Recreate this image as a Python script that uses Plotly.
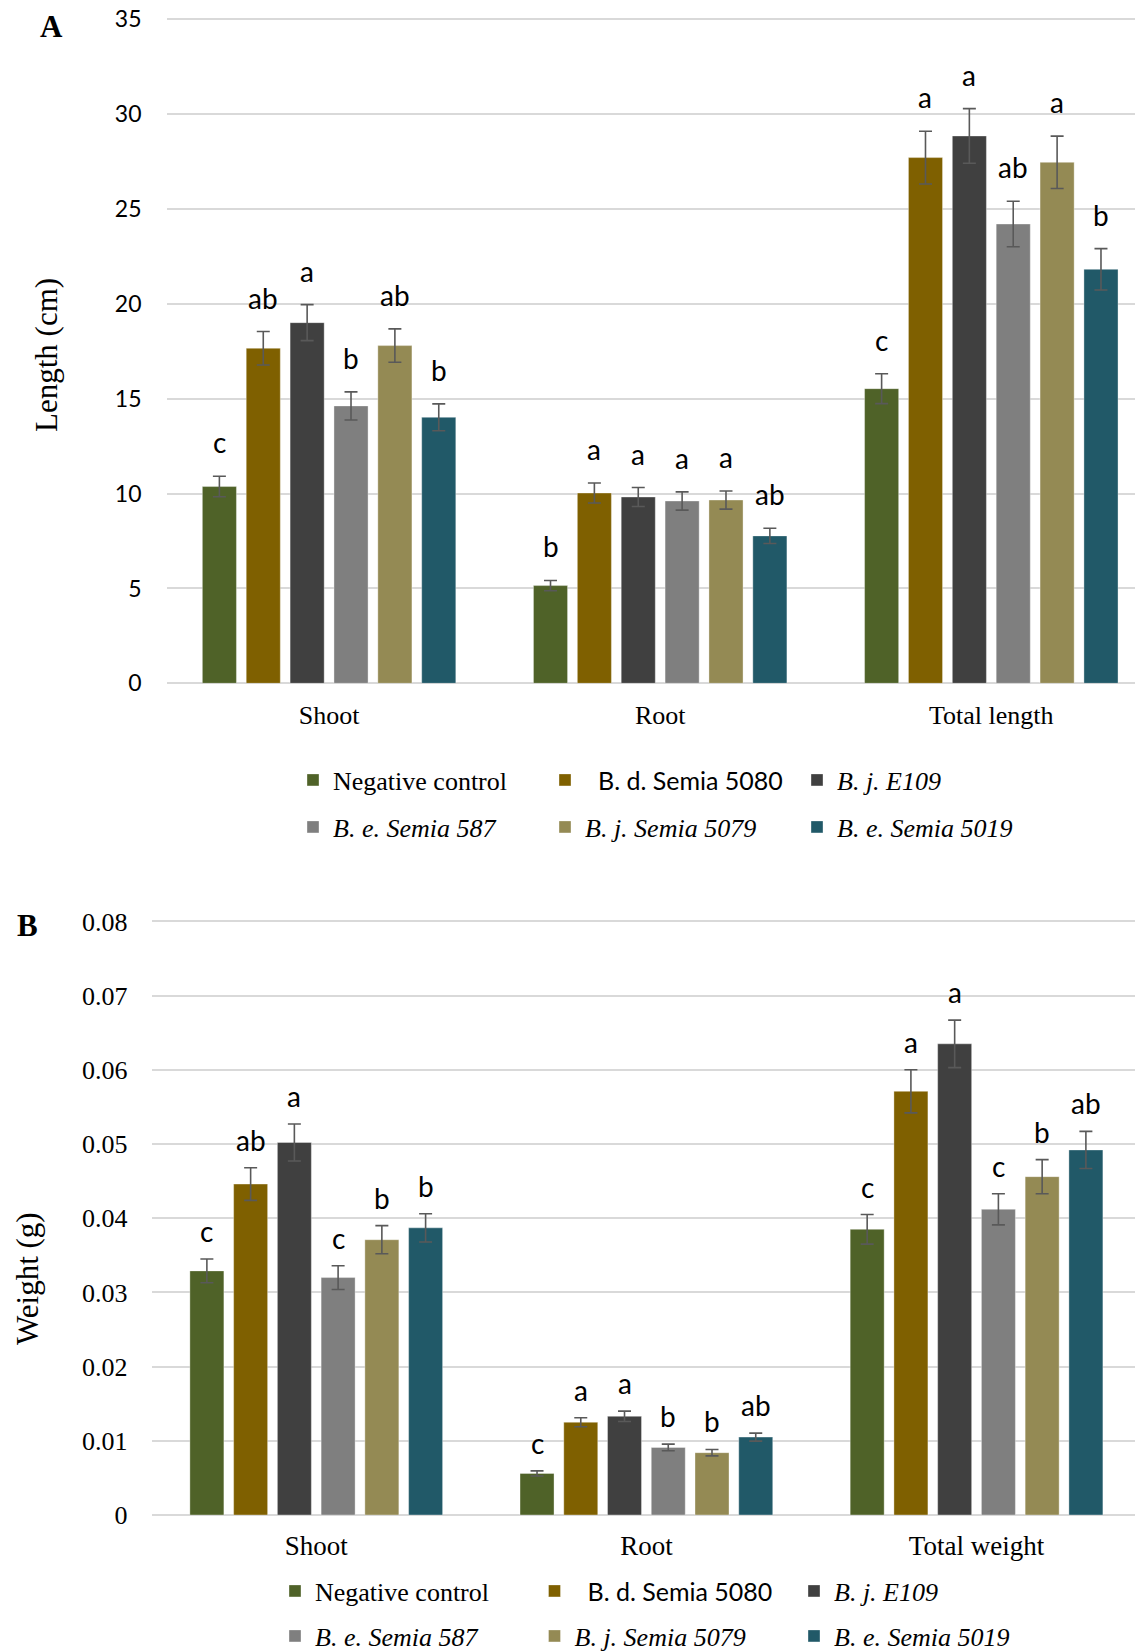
import plotly.graph_objects as go

W, H = 1135, 1652
SERIF = "Liberation Serif, Times New Roman, serif"
SANS = "Lato, Carlito, Calibri, sans-serif"

# ---------------- data ----------------
series_names = ["Negative control", "B. d. Semia 5080", "B. j. E109",
                "B. e. Semia 587", "B. j. Semia 5079", "B. e. Semia 5019"]
legend_labels = ["Negative control",
                 "\u00a0\u00a0<span style=\"font-family:Lato;font-size:25px\">B. d. Semia 5080</span>",
                 "<i>B. j. E109</i>", "<i>B. e. Semia 587</i>",
                 "<i>B. j. Semia 5079</i>", "<i>B. e. Semia 5019</i>"]
colors = ["#4F6228", "#7F6000", "#404040", "#7F7F7F", "#948A54", "#215968"]

length_categories = ["Shoot", "Root", "Total length"]
length_means = [
    [10.37, 5.15, 15.53],
    [17.66, 10.03, 27.71],
    [19.01, 9.82, 28.85],
    [14.62, 9.61, 24.21],
    [17.80, 9.66, 27.46],
    [14.02, 7.77, 21.82],
]
length_errors = [
    [0.54, 0.27, 0.79],
    [0.88, 0.53, 1.39],
    [0.95, 0.50, 1.44],
    [0.74, 0.48, 1.20],
    [0.88, 0.48, 1.38],
    [0.71, 0.40, 1.09],
]
length_letters = [
    ["c", "b", "c"],
    ["ab", "a", "a"],
    ["a", "a", "a"],
    ["b", "a", "ab"],
    ["ab", "a", "a"],
    ["b", "ab", "b"],
]
length_ticks = [0, 5, 10, 15, 20, 25, 30, 35]

weight_categories = ["Shoot", "Root", "Total weight"]
weight_means = [
    [0.0329, 0.0056, 0.0385],
    [0.0446, 0.0125, 0.0571],
    [0.0502, 0.0133, 0.0635],
    [0.0320, 0.0091, 0.0412],
    [0.0371, 0.0084, 0.0456],
    [0.0387, 0.0105, 0.0492],
]
weight_errors = [
    [0.0016, 0.00035, 0.0020],
    [0.0022, 0.00060, 0.0029],
    [0.0025, 0.00070, 0.0032],
    [0.0016, 0.00045, 0.0021],
    [0.0019, 0.00043, 0.0023],
    [0.0019, 0.00054, 0.0025],
]
weight_letters = [
    ["c", "c", "c"],
    ["ab", "a", "a"],
    ["a", "a", "a"],
    ["c", "b", "c"],
    ["b", "b", "b"],
    ["b", "ab", "ab"],
]
weight_ticks = [0, 0.01, 0.02, 0.03, 0.04, 0.05, 0.06, 0.07, 0.08]
weight_tick_text = ["0", "0.01", "0.02", "0.03", "0.04", "0.05", "0.06", "0.07", "0.08"]

# ---------------- layout helpers ----------------
BARGAP = 0.205
BARGROUPGAP = 0.223
n_series = len(series_names)
slot = (1 - BARGAP) / n_series


def px_x(p):
    return p / W


def px_y(p):
    return 1 - p / H


fig = go.Figure()

legend_rows_A = ["legend", "legend", "legend", "legend2", "legend2", "legend2"]
legend_rows_B = ["legend3", "legend3", "legend3", "legend4", "legend4", "legend4"]

for i in range(n_series):
    fig.add_trace(go.Bar(
        x=length_categories, y=length_means[i], name=legend_labels[i],
        marker=dict(color=colors[i], line=dict(color="rgba(255,255,255,0.35)", width=1)),
        error_y=dict(type="data", array=length_errors[i], color="#595959",
                     thickness=1.6, width=6.5),
        xaxis="x", yaxis="y", legend=legend_rows_A[i], hoverinfo="y",
    ))
for i in range(n_series):
    fig.add_trace(go.Bar(
        x=weight_categories, y=weight_means[i], name=legend_labels[i],
        marker=dict(color=colors[i], line=dict(color="rgba(255,255,255,0.35)", width=1)),
        error_y=dict(type="data", array=weight_errors[i], color="#595959",
                     thickness=1.6, width=6.5),
        xaxis="x2", yaxis="y2", legend=legend_rows_B[i], hoverinfo="y",
    ))

annotations = []
# significance letters
for i in range(n_series):
    off = (i - (n_series - 1) / 2) * slot
    for j in range(len(length_categories)):
        annotations.append(dict(
            x=j + off, y=length_means[i][j] + length_errors[i][j], xref="x", yref="y",
            text=length_letters[i][j], showarrow=False, yanchor="middle", yshift=34,
            font=dict(family=SANS, size=28, color="#000000")))
    for j in range(len(weight_categories)):
        annotations.append(dict(
            x=j + off, y=weight_means[i][j] + weight_errors[i][j], xref="x2", yref="y2",
            text=weight_letters[i][j], showarrow=False, yanchor="middle", yshift=28,
            font=dict(family=SANS, size=28, color="#000000")))

# panel letters & axis titles
annotations += [
    dict(x=px_x(51), y=px_y(26), xref="paper", yref="paper", text="<b>A</b>",
         showarrow=False, xanchor="center", yanchor="middle",
         font=dict(family=SERIF, size=31, color="#000")),
    dict(x=px_x(27), y=px_y(925), xref="paper", yref="paper", text="<b>B</b>",
         showarrow=False, xanchor="center", yanchor="middle",
         font=dict(family=SERIF, size=31, color="#000")),
    dict(x=px_x(47), y=px_y(355), xref="paper", yref="paper", text="Length (cm)",
         showarrow=False, textangle=-90, xanchor="center", yanchor="middle",
         font=dict(family=SERIF, size=31, color="#000")),
    dict(x=px_x(27), y=px_y(1279), xref="paper", yref="paper", text="Weight (g)",
         showarrow=False, textangle=-90, xanchor="center", yanchor="middle",
         font=dict(family=SERIF, size=31, color="#000")),
]

grid = "#D9D9D9"
legend_common = dict(orientation="h", xanchor="left", yanchor="middle",
                     font=dict(family=SERIF, size=26, color="#000"),
                     bgcolor="rgba(0,0,0,0)", itemclick=False, itemdoubleclick=False,
                     entrywidthmode="pixels", traceorder="normal", tracegroupgap=0)

fig.update_layout(
    width=W, height=H,
    margin=dict(l=0, r=0, t=0, b=0, pad=0, autoexpand=False),
    paper_bgcolor="white", plot_bgcolor="white",
    barmode="group", bargap=BARGAP, bargroupgap=BARGROUPGAP,
    showlegend=True,
    xaxis=dict(domain=[px_x(166.5), 1], type="category", range=[-0.491, 2.434],
               automargin=False,
               showgrid=False, showline=False, zeroline=False, ticks="",
               ticklabelstandoff=14,
               tickfont=dict(family=SERIF, size=26, color="#000"), anchor="y"),
    yaxis=dict(domain=[px_y(683.3), px_y(13.6)], range=[0, 35.3], tickvals=length_ticks,
               automargin=False,
               showgrid=True, gridcolor=grid, gridwidth=1.6,
               zeroline=True, zerolinecolor=grid, zerolinewidth=1.6,
               showline=False, ticks="", ticklabelstandoff=24,
               tickfont=dict(family=SANS, size=23, color="#000"), anchor="x"),
    xaxis2=dict(domain=[px_x(151.5), 1], type="category", range=[-0.499, 2.480],
                automargin=False,
                showgrid=False, showline=False, zeroline=False, ticks="",
                ticklabelstandoff=12,
                tickfont=dict(family=SERIF, size=27, color="#000"), anchor="y2"),
    yaxis2=dict(domain=[px_y(1515), px_y(917.7)], range=[0, 0.0805], tickvals=weight_ticks,
                ticktext=weight_tick_text, automargin=False,
                showgrid=True, gridcolor=grid, gridwidth=1.6,
                zeroline=True, zerolinecolor=grid, zerolinewidth=1.6,
                showline=False, ticks="", ticklabelstandoff=23,
                tickfont=dict(family=SERIF, size=26, color="#000"), anchor="x2"),
    legend=dict(legend_common, x=px_x(293), y=px_y(780), entrywidth=207),
    legend2=dict(legend_common, x=px_x(293), y=px_y(827), entrywidth=207),
    legend3=dict(legend_common, x=px_x(275), y=px_y(1591), entrywidth=214.5),
    legend4=dict(legend_common, x=px_x(275), y=px_y(1636), entrywidth=214.5),
    annotations=annotations,
)

fig.write_html(
    "out.html",
    config={"displayModeBar": False},
    post_script="document.body.style.margin='0';document.body.style.overflow='hidden';",
)
